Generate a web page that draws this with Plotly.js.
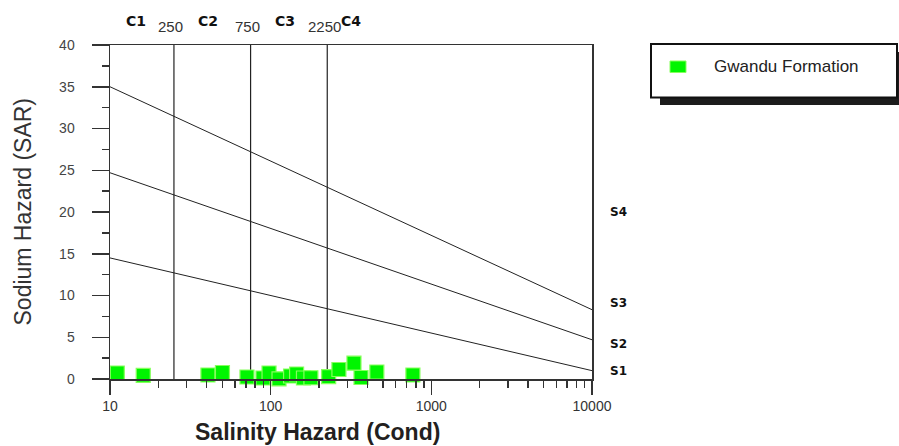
<!DOCTYPE html>
<html>
<head>
<meta charset="utf-8">
<script src="https://cdn.plot.ly/plotly-3.0.1.min.js"></script>
<style>html,body{margin:0;padding:0;background:#fff;}#chart{width:899px;height:446px;}</style>
</head>
<body>
<div id="chart"></div>
<script>
// ---- data ----
const lineX = [10, 10000];
const sLine1 = [14.5, 1.0];
const sLine2 = [24.7, 4.7];
const sLine3 = [35.0, 8.3];
const cBounds = [25, 75, 225];
const cBoundLabels = ['250', '750', '2250'];
const cClassLabels = ['C1', 'C2', 'C3', 'C4'];
const sClassLabels = ['S1', 'S2', 'S3', 'S4'];
const xTickVals = [10, 100, 1000, 10000];
const xTickText = ['10', '100', '1000', '10000'];
const condValues = [11.1, 16.1, 40.7, 50.1, 71.2, 89.6, 97.7, 112.7, 133, 145, 160, 178, 229.6, 266, 330, 365, 458, 768];
const sarValues  = [0.72, 0.44, 0.48, 0.78, 0.24, 0.12, 0.72, 0.02, 0.36, 0.6, 0.12, 0.15, 0.28, 1.14, 1.9, 0.18, 0.84, 0.48];
const seriesName = 'Gwandu Formation';

// ---- layout helpers (pixel -> paper) ----
const L = 110, R = 592, T = 45, B = 379;
const px = x => (x - L) / (R - L);
const py = y => (B - y) / (B - T);
const SANS = 'Arial';

const lineStyle = {color: '#222', width: 1};
const traces = [
  {x: lineX, y: sLine1, mode: 'lines', line: lineStyle, hoverinfo: 'skip'},
  {x: lineX, y: sLine2, mode: 'lines', line: lineStyle, hoverinfo: 'skip'},
  {x: lineX, y: sLine3, mode: 'lines', line: lineStyle, hoverinfo: 'skip'}
];
cBounds.forEach(v => traces.push({x: [v, v], y: [0, 40], mode: 'lines', line: {color: '#222', width: 1.2}, hoverinfo: 'skip'}));
traces.push({
  x: condValues, y: sarValues, mode: 'markers', name: seriesName,
  marker: {symbol: 'square', size: 14, color: '#00f500', line: {color: '#86ff5c', width: 1.2}},
  cliponaxis: false
});

const annotations = [];
const cPix = [135.7, 208, 284.5, 351];
cClassLabels.forEach((t, i) => annotations.push({
  text: t, xref: 'paper', yref: 'paper', x: px(cPix[i]), y: py(21), showarrow: false,
  xanchor: 'center', yanchor: 'middle', font: {family: 'DejaVu Sans', size: 14, color: '#111', weight: 'bold'}
}));
cBounds.forEach((v, i) => annotations.push({
  text: cBoundLabels[i], xref: 'x', yref: 'paper', x: Math.log10(v), y: py(26.5), xshift: -3, showarrow: false,
  xanchor: 'center', yanchor: 'middle', font: {family: SANS, size: 15, color: '#333'}
}));
const sPix = [370.7, 344.3, 303.3, 211.7];
sClassLabels.forEach((t, i) => annotations.push({
  text: t, xref: 'paper', yref: 'paper', x: px(608), y: py(sPix[i]), showarrow: false,
  xanchor: 'left', yanchor: 'middle', font: {family: 'DejaVu Sans', size: 12, color: '#111', weight: 'bold'}
}));
annotations.push({
  text: 'Sodium Hazard (SAR)', xref: 'paper', yref: 'paper', x: px(22.5), y: py(212), textangle: -90,
  showarrow: false, xanchor: 'center', yanchor: 'middle', font: {family: SANS, size: 23, color: '#333'}
});
annotations.push({
  text: '<b>Salinity Hazard (Cond)</b>', xref: 'paper', yref: 'paper', x: px(317.5), y: py(432), showarrow: false,
  xanchor: 'center', yanchor: 'middle', font: {family: SANS, size: 23, color: '#231f20'}
});
annotations.push({
  text: seriesName, xref: 'paper', yref: 'paper', x: px(711.5), y: py(66.5), showarrow: false,
  xanchor: 'left', yanchor: 'middle', font: {family: SANS, size: 17, color: '#222'}
});

const shapes = [
  {type: 'rect', xref: 'paper', yref: 'paper', x0: px(660), x1: px(906), y0: py(52), y1: py(105), fillcolor: '#1c1c1c', line: {width: 0}},
  {type: 'rect', xref: 'paper', yref: 'paper', x0: px(651), x1: px(897), y0: py(44), y1: py(97.5), fillcolor: '#fff', line: {color: '#111', width: 2}},
  {type: 'rect', xref: 'paper', yref: 'paper', x0: px(670), x1: px(686), y0: py(61), y1: py(72.5), fillcolor: '#00f500', line: {color: '#86ff5c', width: 1}}
];

const layout = {
  width: 899, height: 446,
  margin: {l: L, r: 899 - R, t: T, b: 446 - B, pad: 0},
  paper_bgcolor: '#fff', plot_bgcolor: '#fff',
  showlegend: false,
  xaxis: {
    type: 'log', range: [1, 4], tickvals: xTickVals, ticktext: xTickText,
    ticks: 'outside', ticklen: 14, tickwidth: 1.5, tickcolor: '#333',
    minor: {ticks: 'outside', ticklen: 7, tickwidth: 1.5, tickcolor: '#333', dtick: 'D1', showgrid: false},
    showline: true, linecolor: '#333', linewidth: 1.5, mirror: true,
    showgrid: false, zeroline: false,
    tickfont: {family: SANS, size: 14, color: '#333'}
  },
  yaxis: {
    range: [0, 40], dtick: 5, tick0: 0,
    ticks: 'outside', ticklen: 17, tickwidth: 1.5, tickcolor: '#333',
    minor: {ticks: 'outside', ticklen: 7, tickwidth: 1.5, tickcolor: '#333', dtick: 2.5, showgrid: false},
    showline: true, linecolor: '#333', linewidth: 1.5, mirror: true,
    showgrid: false, zeroline: false, ticklabelstandoff: 14,
    tickfont: {family: SANS, size: 14, color: '#444'}
  },
  annotations: annotations,
  shapes: shapes
};

Plotly.newPlot('chart', traces, layout, {staticPlot: true, displayModeBar: false});
</script>
</body>
</html>
